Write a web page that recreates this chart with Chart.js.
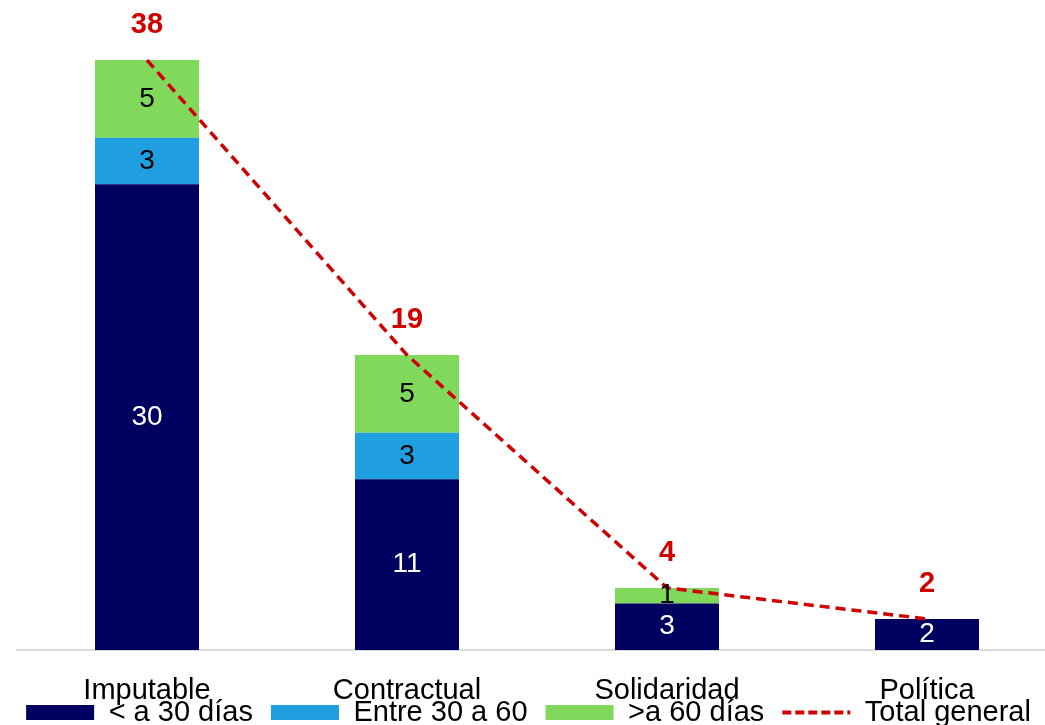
<!DOCTYPE html>
<html>
<head>
<meta charset="utf-8">
<script src="https://cdn.jsdelivr.net/npm/chart.js@4.4.1/dist/chart.umd.min.js"></script>
<style>
    html, body { margin: 0; padding: 0; background: #fff; overflow: hidden; }
    #wrap { width: 1062px; height: 737px; }
</style>
</head>
<body>
<div id="wrap"><canvas id="chart" width="1062" height="737"></canvas></div>
<script>
// ── Data ──
const categories = ['Imputable', 'Contractual', 'Solidaridad', 'Política'];
const menos30 = [30, 11, 3, 2];
const entre30y60 = [3, 3, 0, 0];
const mas60 = [5, 5, 1, 0];
const totalGeneral = [38, 19, 4, 2];

const seriesNames = ['< a 30 días', 'Entre 30 a 60', '>a 60 días', 'Total general'];

const COLORS = {
    navy: '#000060',
    blue: '#1F9FE0',
    green: '#80D95A',
    red: '#D00000',
};

const FONT = "'Liberation Sans', Arial, sans-serif";
const LINE_DASH = [10, 6];

// labels inside stacked segments + red totals above the line points
const valueLabels = {
    id: 'valueLabels',
    afterDatasetsDraw(chart) {
        const ctx = chart.ctx;
        ctx.save();
        ctx.textAlign = 'center';
        ctx.textBaseline = 'middle';
        chart.data.datasets.forEach((ds, i) => {
            const meta = chart.getDatasetMeta(i);
            meta.data.forEach((el, j) => {
                const v = ds.data[j];
                if (!v) return;
                if (ds.type === 'line') {
                    ctx.font = 'bold 29px ' + FONT;
                    ctx.fillStyle = COLORS.red;
                    ctx.fillText(v, el.x, el.y - 35);
                } else {
                    const mid = (el.y + el.base) / 2;
                    ctx.font = '28px ' + FONT;
                    ctx.fillStyle = i === 0 ? '#ffffff' : '#000000';
                    ctx.fillText(v, el.x, mid);
                }
            });
        });
        ctx.restore();
    }
};

const barCommon = {
    stack: 's',
    borderWidth: 0,
    pointStyle: 'rect',
    categoryPercentage: 1.0,
    barPercentage: 0.4,
    order: 1,
};

new Chart(document.getElementById('chart'), {
    type: 'bar',
    data: {
        labels: categories,
        datasets: [
            { ...barCommon, label: seriesNames[0], data: menos30, backgroundColor: COLORS.navy },
            { ...barCommon, label: seriesNames[1], data: entre30y60, backgroundColor: COLORS.blue },
            { ...barCommon, label: seriesNames[2], data: mas60, backgroundColor: COLORS.green },
            {
                type: 'line',
                label: seriesNames[3],
                data: totalGeneral,
                borderColor: COLORS.red,
                backgroundColor: COLORS.red,
                borderWidth: 3.5,
                borderDash: LINE_DASH,
                pointRadius: 0,
                pointStyle: 'line',
                tension: 0,
                order: 0,
            }
        ]
    },
    options: {
        responsive: false,
        animation: false,
        layout: { padding: { left: 0, right: 5, top: 29, bottom: 0 } },
        plugins: {
            tooltip: { enabled: false },
            legend: {
                position: 'bottom',
                labels: {
                    usePointStyle: true,
                    pointStyleWidth: 68,
                    boxHeight: 15,
                    padding: 18,
                    color: '#000000',
                    font: { size: 29, family: FONT },
                    sort: (a, b) => a.datasetIndex - b.datasetIndex,
                    generateLabels(chart) {
                        const items = Chart.defaults.plugins.legend.labels.generateLabels(chart);
                        items.forEach(it => {
                            if (chart.data.datasets[it.datasetIndex].type === 'line') {
                                it.lineDash = [9, 4];
                                it.lineWidth = 4;
                                it.strokeStyle = COLORS.red;
                            }
                        });
                        return items;
                    }
                }
            }
        },
        scales: {
            x: {
                stacked: true,
                grid: { display: false, drawTicks: false },
                border: { color: '#d9d9d9', width: 2 },
                ticks: {
                    color: '#000000',
                    padding: 24,
                    font: { size: 29, family: FONT },
                },
                afterFit(scale) {
                    scale.height = 30;
                    // let the category labels overlap the legend band instead of being clipped
                    scale._computeLabelArea = () => undefined;
                }
            },
            y: {
                stacked: true,
                display: true,
                min: 0,
                max: 40,
                ticks: { display: false },
                grid: { display: false },
                border: { display: false },
                afterFit(scale) { scale.width = 17; }
            }
        }
    },
    plugins: [valueLabels]
});
</script>
</body>
</html>
